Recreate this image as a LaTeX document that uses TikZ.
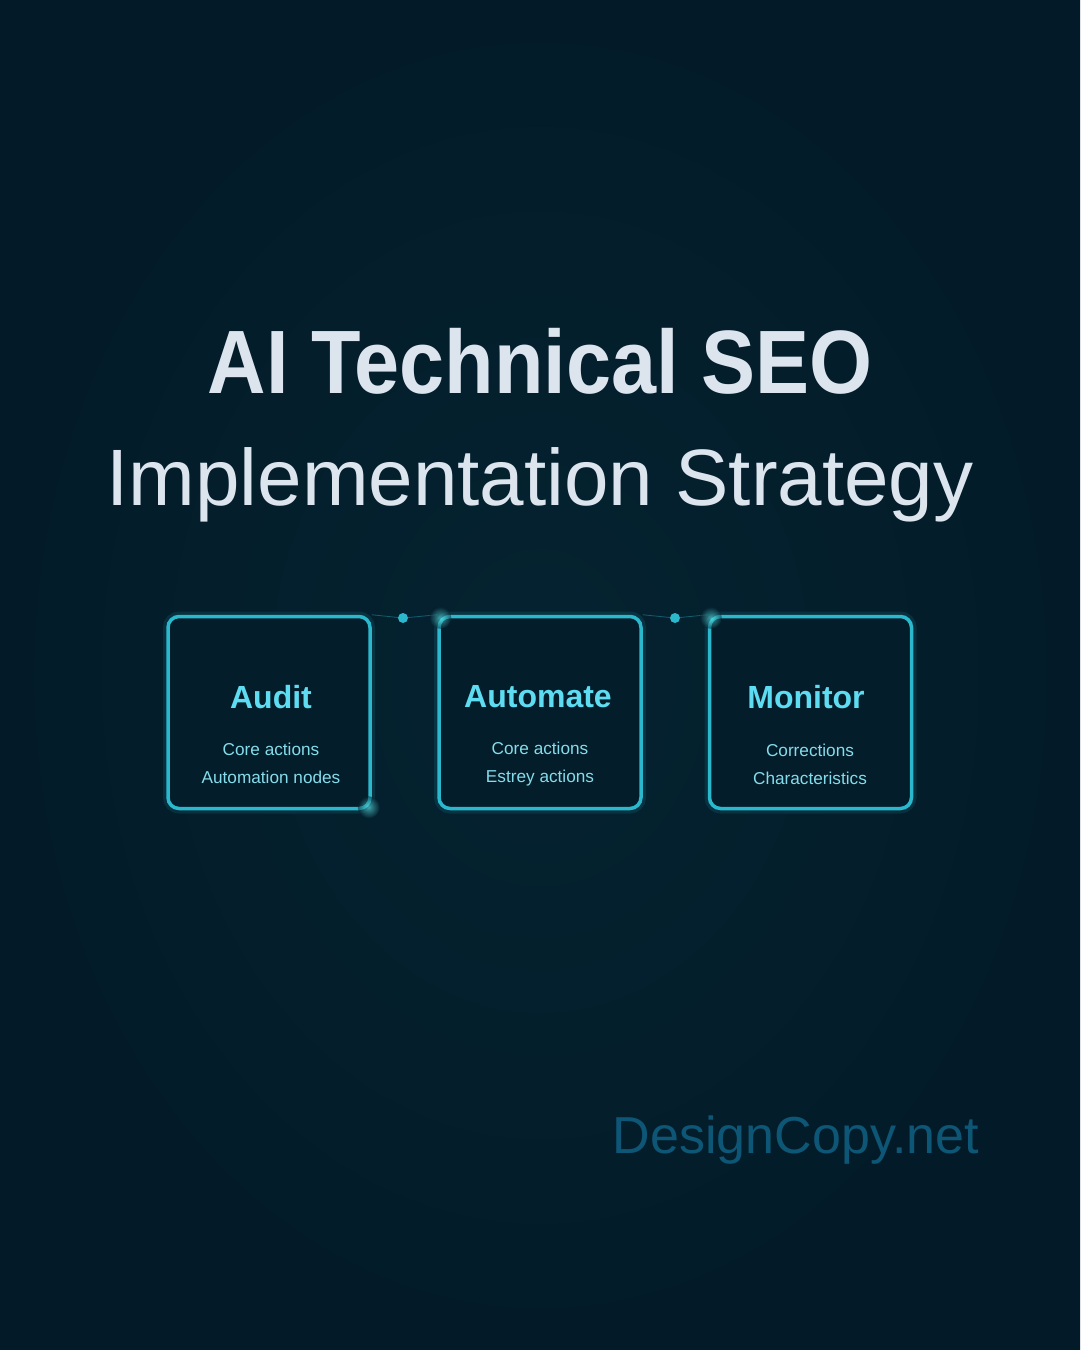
\documentclass[tikz,border=0pt]{standalone}
\usepackage{fontspec}
\setmainfont{Liberation Sans}
\usetikzlibrary{positioning}

\definecolor{bgnavy}{HTML}{04202E}
\definecolor{bgmid}{HTML}{052331}
\definecolor{bgedge}{HTML}{031B28}
\definecolor{titlegrey}{HTML}{DCE4EE}
\definecolor{boxcyan}{HTML}{2BB8CC}
\definecolor{headcyan}{HTML}{5EDCF2}
\definecolor{subcyan}{HTML}{85DCEA}
\definecolor{markblue}{HTML}{0E5676}

\tikzset{
  stage/.style={draw=boxcyan, line width=3.5pt, rounded corners=11pt,
    minimum width=202pt, minimum height=192pt, fill=bgnavy!92!black,
    preaction={draw=boxcyan, line width=10pt, opacity=0.12}},
  stagehead/.style={text=headcyan, font=\fontsize{32}{36}\selectfont\bfseries},
  stagesub/.style={text=subcyan, align=center,
    font=\fontsize{17.2}{28}\selectfont},
  linkdot/.style={circle, fill=boxcyan, inner sep=0pt, minimum size=10pt},
  linkline/.style={draw=boxcyan, line width=0.8pt, opacity=0.4},
  spark/.style={inner color=cyan!60!white, outer color=bgnavy, opacity=0.55},
}

\begin{document}
\begin{tikzpicture}[x=1pt, y=-1pt]
  \useasboundingbox (0,0) rectangle (1080,1350);
  \shade[inner color=bgmid, outer color=bgedge] (0,0) rectangle (1080,1350);

  % title
  \node[anchor=base, text=titlegrey,
    font=\fontsize{90}{96}\selectfont\bfseries\addfontfeature{FakeStretch=0.9}]
    (title) at (540,393) {AI Technical SEO};
  \node[anchor=base, text=titlegrey, font=\fontsize{80}{86}\selectfont]
    (subtitle) at (540,505) {Implementation Strategy};

  % stages
  \node[stage] (audit) at (269,712.5) {};
  \node[stage] (automate) at (540,712.5) {};
  \node[stage] (monitor) at (810.5,712.5) {};

  \node[linkdot] (dotA) at (403,618) {};
  \node[linkdot] (dotB) at (675,618) {};
  \draw[linkline] (audit.north east) -- (dotA) -- (automate.north west);
  \draw[linkline] (automate.north east) -- (dotB) -- (monitor.north west);

  % glow spots
  \shade[spark] (automate.north west) ++(3,3) circle (11);
  \shade[spark] (monitor.north west) ++(3,3) circle (11);
  \shade[spark] (audit.south east) ++(-3,-3) circle (11);

  \node[stagehead] (auditT) at (271,697) {Audit};
  \node[stagesub] (auditS) at (271,763) {Core actions\\Automation nodes};
  \node[stagehead] (automateT) at (538,697) {Automate};
  \node[stagesub] (automateS) at (540,764) {Core actions\\Estrey actions};
  \node[stagehead] (monitorT) at (806,697) {Monitor};
  \node[stagesub] (monitorS) at (810,764) {Corrections\\Characteristics};

  % watermark
  \node[anchor=base, text=markblue, font=\fontsize{52}{56}\selectfont]
    (mark) at (796,1153) {DesignCopy.net};
\end{tikzpicture}
\end{document}
